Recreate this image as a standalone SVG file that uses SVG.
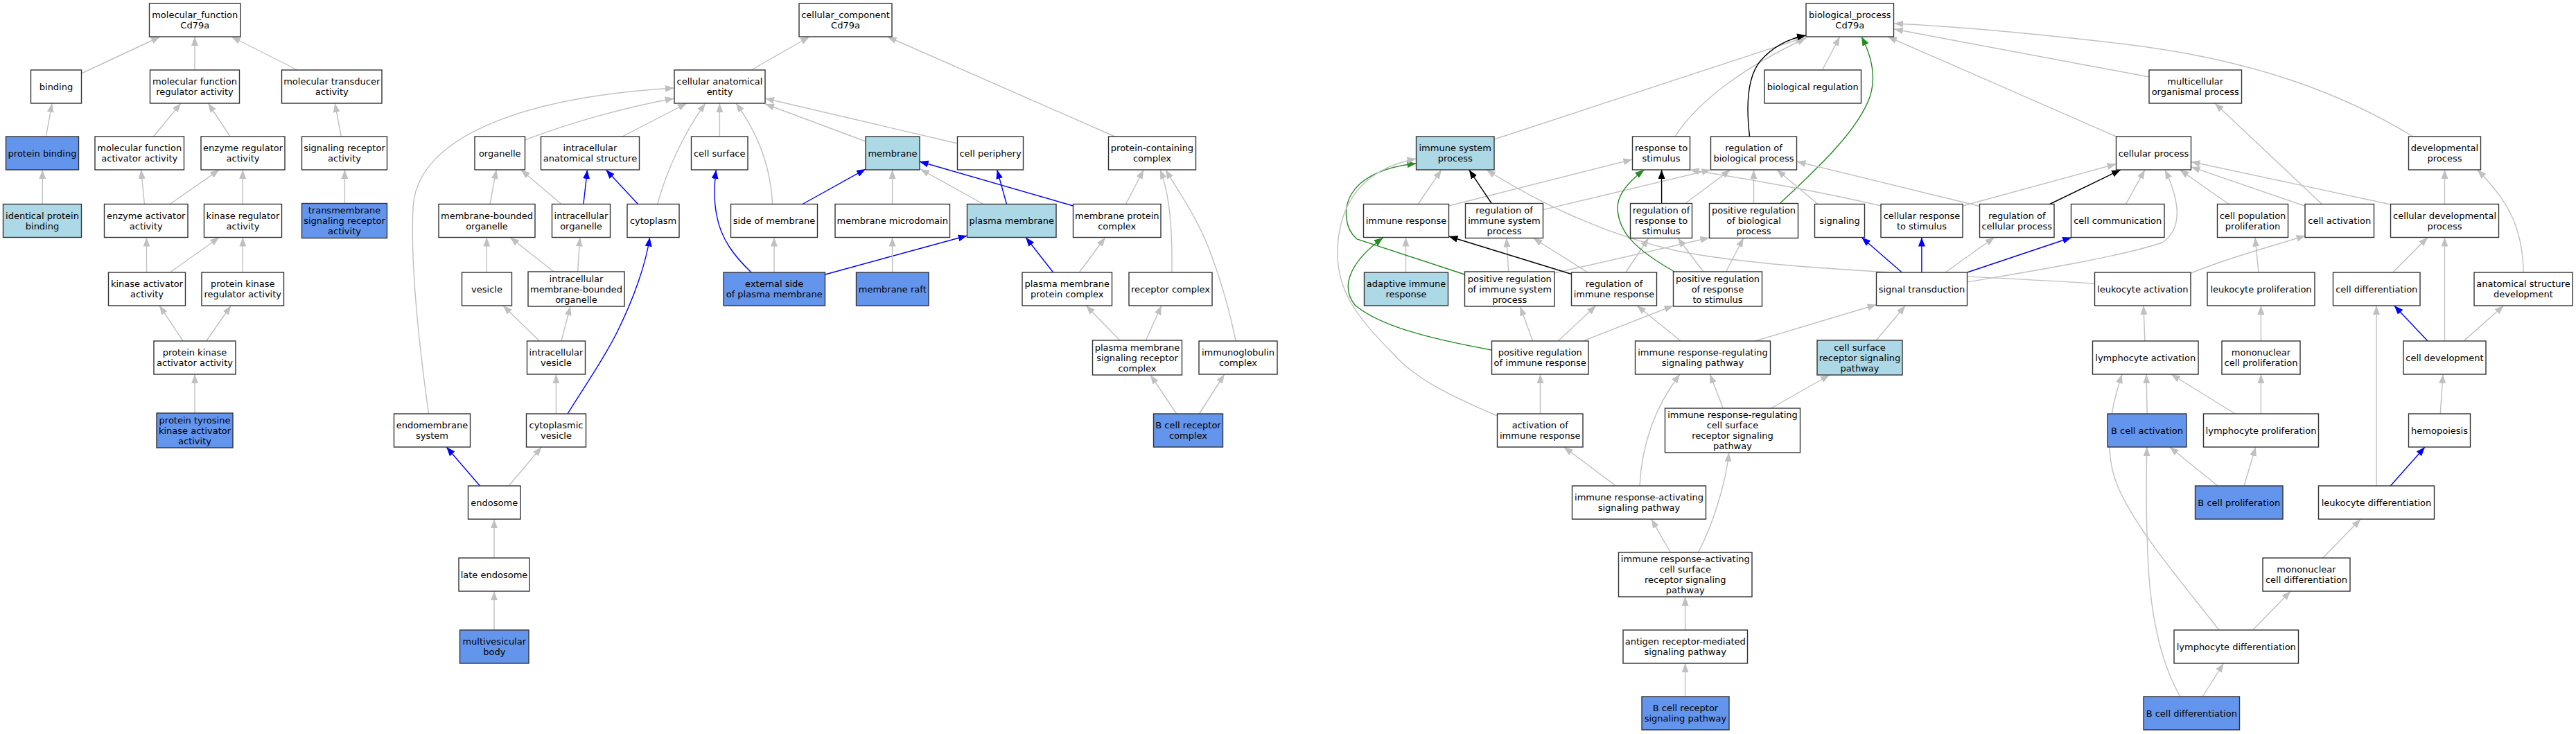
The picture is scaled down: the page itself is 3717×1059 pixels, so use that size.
<svg xmlns="http://www.w3.org/2000/svg" width="3717" height="1059" viewBox="0 0 3717 1059">
<style>
.n rect{fill:#fff;stroke:#333;stroke-width:1.4}
.cb rect{fill:#6495ed}
.lb rect{fill:#add8e6}
text{font-family:"DejaVu Sans","Liberation Sans",sans-serif;font-size:13px;text-anchor:middle;fill:#000}
.e path{fill:none;stroke-width:1.4}
.g{stroke:#c0c0c0;marker-end:url(#mg)}
.b{stroke:#0000ff;marker-end:url(#mb)}
.k{stroke:#000;marker-end:url(#mk)}
.f{stroke:#228b22;marker-end:url(#mf)}
</style>
<defs>
<marker id="mg" viewBox="0 0 13 10" refX="13" refY="5" markerWidth="13" markerHeight="10" markerUnits="userSpaceOnUse" orient="auto" preserveAspectRatio="none"><path d="M0,0L13,5L0,10z" fill="#c0c0c0"/></marker>
<marker id="mb" viewBox="0 0 13 10" refX="13" refY="5" markerWidth="13" markerHeight="10" markerUnits="userSpaceOnUse" orient="auto" preserveAspectRatio="none"><path d="M0,0L13,5L0,10z" fill="#0000ff"/></marker>
<marker id="mk" viewBox="0 0 13 10" refX="13" refY="5" markerWidth="13" markerHeight="10" markerUnits="userSpaceOnUse" orient="auto" preserveAspectRatio="none"><path d="M0,0L13,5L0,10z" fill="#000"/></marker>
<marker id="mf" viewBox="0 0 13 10" refX="13" refY="5" markerWidth="13" markerHeight="10" markerUnits="userSpaceOnUse" orient="auto" preserveAspectRatio="none"><path d="M0,0L13,5L0,10z" fill="#228b22"/></marker>
</defs>
<rect width="3717" height="1059" fill="#fff"/>
<g id="edges" class="e">
<path class="g" d="M117.4,106L231,53"/>
<path class="g" d="M281,101L281,53"/>
<path class="g" d="M429,101L334,53"/>
<path class="g" d="M66.4,197L75.1,149"/>
<path class="g" d="M221.4,197L261,149"/>
<path class="g" d="M332,197L300.5,149"/>
<path class="g" d="M492.3,197L483.2,149"/>
<path class="g" d="M61.3,294.5L61.3,245"/>
<path class="g" d="M208.4,294.5L203.6,245"/>
<path class="g" d="M245.2,294.5L316.3,245"/>
<path class="g" d="M350.3,294.5L350.3,245"/>
<path class="g" d="M497.4,293.5L497.4,245"/>
<path class="g" d="M211.5,393L211.5,342.5"/>
<path class="g" d="M245.2,393L316.3,342.5"/>
<path class="g" d="M350.3,393L350.3,342.5"/>
<path class="g" d="M264.1,492L230.1,441"/>
<path class="g" d="M297.7,492L333.3,441"/>
<path class="g" d="M281.1,596L281.1,540"/>
<path class="g" d="M1084,101L1168,53"/>
<path class="g" d="M1608.7,197L1280.5,53"/>
<path class="g" d="M757.3,202C820,178 900,155 972.8,142"/>
<path class="g" d="M898,197L991,149"/>
<path class="g" d="M948.7,294.5C962,245 988,190 1018,149"/>
<path class="g" d="M1038.4,197L1038.4,149"/>
<path class="g" d="M1114.8,294.5C1112,240 1092,190 1062,149"/>
<path class="g" d="M1249,204L1104.1,150"/>
<path class="g" d="M1381.7,207L1104.1,142"/>
<path class="g" d="M618.5,597C605,500 592,380 596,300C600,200 750,140 972.8,127"/>
<path class="g" d="M707,294.5L716.2,245"/>
<path class="g" d="M810,294.5L751.8,245"/>
<path class="b" d="M841.9,294.5L847.5,245"/>
<path class="b" d="M920.6,294.5L874.4,245"/>
<path class="g" d="M702.3,393L702.3,342.5"/>
<path class="g" d="M799.2,392L736,342.5"/>
<path class="g" d="M833.6,392L836.8,342.5"/>
<path class="g" d="M778.3,492L726.1,441"/>
<path class="g" d="M809.9,492L823,442"/>
<path class="b" d="M819,597C845,555 870,520 890,480C915,430 932,380 937.6,342.5"/>
<path class="g" d="M802.4,597L802.4,540"/>
<path class="b" d="M692.5,701L644.2,645"/>
<path class="g" d="M734,701L781.4,645"/>
<path class="g" d="M713,805L713,749"/>
<path class="g" d="M713,909L713,853"/>
<path class="b" d="M1084,393C1060,370 1040,345 1034,310C1030,290 1030,270 1033.3,245"/>
<path class="g" d="M1117,393L1117,342.5"/>
<path class="b" d="M1190.7,396L1395.6,340"/>
<path class="b" d="M1158,294.5L1249,244"/>
<path class="g" d="M1287.6,294.5L1287.6,245"/>
<path class="g" d="M1418.9,294.5L1328,244"/>
<path class="b" d="M1452.5,294.5L1438.7,245"/>
<path class="b" d="M1548.6,297L1326.7,233"/>
<path class="g" d="M1624.5,294.5L1650.2,245"/>
<path class="g" d="M1287.6,393L1287.6,342.5"/>
<path class="b" d="M1519.7,393L1480.2,342.5"/>
<path class="g" d="M1557.3,393L1594.8,342.5"/>
<path class="g" d="M1690.9,393C1692,330 1688,280 1674,245"/>
<path class="g" d="M1783,492C1775,450 1760,400 1745,360C1725,310 1700,275 1681.8,245"/>
<path class="g" d="M1615.8,491L1567.2,441"/>
<path class="g" d="M1653.4,491L1675.9,441"/>
<path class="g" d="M1697.6,597L1660,541"/>
<path class="g" d="M1730.5,597L1766.8,540"/>
<path class="g" d="M2156,201L2604,54"/>
<path class="g" d="M2417,197C2450,145 2520,95 2606,55"/>
<path class="g" d="M2629.4,101L2654.6,53"/>
<path class="k" d="M2524.6,197C2519,150 2522,110 2540,88C2560,65 2585,55 2606,51"/>
<path class="f" d="M2568.4,293.5C2620,245 2680,190 2698,140C2708,110 2700,80 2686,53"/>
<path class="g" d="M3053.5,197L2724,53"/>
<path class="g" d="M3101,111L2733,42"/>
<path class="g" d="M3482,197C3380,135 3250,85 3060,63C2950,50 2820,38 2733,34"/>
<path class="g" d="M2046.2,294.5L2079.9,245"/>
<path class="g" d="M2090.4,297L2355.5,230"/>
<path class="k" d="M2152.3,293.5L2119.8,245"/>
<path class="g" d="M2226.5,302.6L2468.5,245"/>
<path class="g" d="M2714,297C2620,275 2520,258 2438.5,245"/>
<path class="k" d="M2397.6,293.5L2397.6,245"/>
<path class="g" d="M2431.6,293.5L2496.8,245"/>
<path class="g" d="M2530.5,293.5L2530.5,245"/>
<path class="g" d="M2623,294.5L2564,245"/>
<path class="g" d="M2832.2,297L3053.5,236.6"/>
<path class="g" d="M2856.6,297.5L2592.5,233"/>
<path class="k" d="M2957.7,294.5L3060,245"/>
<path class="g" d="M3067.5,294.5L3094.9,245"/>
<path class="g" d="M3216,294.5L3145.4,245"/>
<path class="g" d="M3326.4,297.5L3161.5,240.7"/>
<path class="g" d="M3449.5,295L3161.5,233.3"/>
<path class="g" d="M3350.4,294.5L3195.9,149"/>
<path class="g" d="M3527.5,294.5L3527.5,245"/>
<path class="g" d="M3641.2,393C3640,330 3620,290 3574.7,245"/>
<path class="g" d="M3161.4,394C3220,370 3280,355 3326.4,340"/>
<path class="g" d="M3259,393L3254,342.5"/>
<path class="g" d="M3452.6,393L3503,342.5"/>
<path class="g" d="M3527.5,492L3527.5,342.5"/>
<path class="b" d="M3503,492L3454.7,441"/>
<path class="g" d="M3554.9,492L3612.6,441"/>
<path class="g" d="M3094.9,492L3093,441"/>
<path class="g" d="M3262.4,492L3262.4,441"/>
<path class="g" d="M3429,701L3429,441"/>
<path class="g" d="M3521.2,597L3525,540"/>
<path class="b" d="M3449.3,701L3499,645"/>
<path class="g" d="M3098.2,597L3097,540"/>
<path class="g" d="M3225.4,597L3132.8,540"/>
<path class="g" d="M3262.4,597L3262.4,540"/>
<path class="g" d="M3200,701L3130.7,645"/>
<path class="g" d="M3238,701L3254.8,645"/>
<path class="g" d="M3351.6,805L3406.3,749"/>
<path class="g" d="M3250.6,909L3305.3,853"/>
<path class="g" d="M3202,909C3140,830 3080,760 3055,700C3035,650 3045,590 3062,540"/>
<path class="g" d="M3178.2,1005L3208.5,957"/>
<path class="g" d="M3146,1005C3120,960 3105,900 3100,820C3096,740 3097,690 3097.8,645"/>
<path class="g" d="M3022.5,409C2800,395 2560,390 2420,362C2300,335 2200,280 2145,245"/>
<path class="g" d="M2028.5,393L2028.5,342.5"/>
<path class="f" d="M2113.5,396L1958,345C1940,330 1938,300 1950,280C1965,255 2000,240 2043.5,236"/>
<path class="g" d="M2176.7,392L2173.7,343.5"/>
<path class="g" d="M2243,394L2466.5,343"/>
<path class="k" d="M2267.5,395.5L2090.5,341"/>
<path class="g" d="M2291.1,393L2212.4,343.5"/>
<path class="g" d="M2345.9,393L2378.7,343.5"/>
<path class="g" d="M2160.5,600C2090,570 2040,545 2010,510C1960,460 1928,420 1930,360C1932,300 1960,245 2043.5,229"/>
<path class="g" d="M2211.6,492L2193.5,442.5"/>
<path class="g" d="M2248.2,492L2302.9,441"/>
<path class="g" d="M2284,492L2414.5,441"/>
<path class="f" d="M2152.5,505C2060,488 1990,470 1955,440C1935,415 1945,380 1995.7,343"/>
<path class="g" d="M2425.3,492L2362,441"/>
<path class="g" d="M2458,392L2421,343.5"/>
<path class="g" d="M2490.5,392L2515.7,343.5"/>
<path class="f" d="M2416,392C2360,360 2335,335 2334,300C2334,280 2350,262 2372.4,245"/>
<path class="g" d="M2532.6,492L2707.5,439.5"/>
<path class="g" d="M2707.2,491L2749.3,441"/>
<path class="b" d="M2744.3,393L2686.2,342.5"/>
<path class="b" d="M2772.9,393L2772.9,342.5"/>
<path class="g" d="M2806,393.8L2877.7,342.5"/>
<path class="b" d="M2838.6,393L2989.2,342.5"/>
<path class="g" d="M2838.6,407C2950,388 3060,370 3120,350C3150,330 3145,290 3124,245"/>
<path class="g" d="M2222.5,597L2222.5,540"/>
<path class="g" d="M2331.5,701L2256.6,645"/>
<path class="g" d="M2366,701C2368,660 2378,600 2424,540"/>
<path class="g" d="M2486.3,589L2467.3,540"/>
<path class="g" d="M2555.7,589L2639.9,541"/>
<path class="g" d="M2410.3,797L2382.9,749"/>
<path class="g" d="M2450.5,797C2470,760 2490,700 2494.7,653"/>
<path class="g" d="M2431.6,909L2431.6,861"/>
<path class="g" d="M2431.6,1005L2431.6,957"/>
</g>
<g id="n_mf_root" class="n"><rect x="215.5" y="5" width="131.5" height="48"/><text><tspan x="281.25" y="26">molecular_function</tspan><tspan x="281.25" y="41">Cd79a</tspan></text></g>
<g id="n_binding" class="n"><rect x="44.5" y="101" width="73" height="48"/><text x="81" y="129.5">binding</text></g>
<g id="n_mfra" class="n"><rect x="216.5" y="101" width="129" height="48"/><text><tspan x="281" y="122">molecular function</tspan><tspan x="281" y="137">regulator activity</tspan></text></g>
<g id="n_mta" class="n"><rect x="406.5" y="101" width="144.5" height="48"/><text><tspan x="478.75" y="122">molecular transducer</tspan><tspan x="478.75" y="137">activity</tspan></text></g>
<g id="n_pb" class="n cb"><rect x="8.5" y="197" width="105" height="48"/><text x="61" y="225.5">protein binding</text></g>
<g id="n_mfaa" class="n"><rect x="137" y="197" width="128.5" height="48"/><text><tspan x="201.25" y="218">molecular function</tspan><tspan x="201.25" y="233">activator activity</tspan></text></g>
<g id="n_era" class="n"><rect x="290" y="197" width="121" height="48"/><text><tspan x="350.5" y="218">enzyme regulator</tspan><tspan x="350.5" y="233">activity</tspan></text></g>
<g id="n_sra" class="n"><rect x="435.5" y="197" width="123" height="48"/><text><tspan x="497" y="218">signaling receptor</tspan><tspan x="497" y="233">activity</tspan></text></g>
<g id="n_ipb" class="n lb"><rect x="4.5" y="294.5" width="113" height="48"/><text><tspan x="61" y="315.5">identical protein</tspan><tspan x="61" y="330.5">binding</tspan></text></g>
<g id="n_eaa" class="n"><rect x="150.5" y="294.5" width="120.5" height="48"/><text><tspan x="210.75" y="315.5">enzyme activator</tspan><tspan x="210.75" y="330.5">activity</tspan></text></g>
<g id="n_kra" class="n"><rect x="294.5" y="294.5" width="112" height="48"/><text><tspan x="350.5" y="315.5">kinase regulator</tspan><tspan x="350.5" y="330.5">activity</tspan></text></g>
<g id="n_tsra" class="n cb"><rect x="435.5" y="293.5" width="123" height="50"/><text><tspan x="497" y="308">transmembrane</tspan><tspan x="497" y="323">signaling receptor</tspan><tspan x="497" y="338">activity</tspan></text></g>
<g id="n_kaa" class="n"><rect x="156.5" y="393" width="111" height="48"/><text><tspan x="212" y="414">kinase activator</tspan><tspan x="212" y="429">activity</tspan></text></g>
<g id="n_pkra" class="n"><rect x="291" y="393" width="118.5" height="48"/><text><tspan x="350.25" y="414">protein kinase</tspan><tspan x="350.25" y="429">regulator activity</tspan></text></g>
<g id="n_pkaa" class="n"><rect x="222" y="492" width="118" height="48"/><text><tspan x="281" y="513">protein kinase</tspan><tspan x="281" y="528">activator activity</tspan></text></g>
<g id="n_ptkaa" class="n cb"><rect x="226" y="596" width="110" height="50"/><text><tspan x="281" y="610.5">protein tyrosine</tspan><tspan x="281" y="625.5">kinase activator</tspan><tspan x="281" y="640.5">activity</tspan></text></g>
<g id="n_cc_root" class="n"><rect x="1153" y="5" width="134" height="48"/><text><tspan x="1220" y="26">cellular_component</tspan><tspan x="1220" y="41">Cd79a</tspan></text></g>
<g id="n_cae" class="n"><rect x="973" y="101" width="131" height="48"/><text><tspan x="1038.5" y="122">cellular anatomical</tspan><tspan x="1038.5" y="137">entity</tspan></text></g>
<g id="n_organelle" class="n"><rect x="685" y="197" width="72.5" height="48"/><text x="721.25" y="225.5">organelle</text></g>
<g id="n_ias" class="n"><rect x="780.5" y="197" width="142" height="48"/><text><tspan x="851.5" y="218">intracellular</tspan><tspan x="851.5" y="233">anatomical structure</tspan></text></g>
<g id="n_cellsurface" class="n"><rect x="997.5" y="197" width="81.5" height="48"/><text x="1038.25" y="225.5">cell surface</text></g>
<g id="n_membrane" class="n lb"><rect x="1249" y="197" width="78" height="48"/><text x="1288" y="225.5">membrane</text></g>
<g id="n_cellperiphery" class="n"><rect x="1381.5" y="197" width="95" height="48"/><text x="1429" y="225.5">cell periphery</text></g>
<g id="n_pcc" class="n"><rect x="1599.5" y="197" width="126" height="48"/><text><tspan x="1662.5" y="218">protein-containing</tspan><tspan x="1662.5" y="233">complex</tspan></text></g>
<g id="n_mbo" class="n"><rect x="633" y="294.5" width="139" height="48"/><text><tspan x="702.5" y="315.5">membrane-bounded</tspan><tspan x="702.5" y="330.5">organelle</tspan></text></g>
<g id="n_io" class="n"><rect x="796.5" y="294.5" width="84" height="48"/><text><tspan x="838.5" y="315.5">intracellular</tspan><tspan x="838.5" y="330.5">organelle</tspan></text></g>
<g id="n_cytoplasm" class="n"><rect x="905" y="294.5" width="75" height="48"/><text x="942.5" y="323">cytoplasm</text></g>
<g id="n_som" class="n"><rect x="1054.5" y="294.5" width="125" height="48"/><text x="1117" y="323">side of membrane</text></g>
<g id="n_mmd" class="n"><rect x="1205" y="294.5" width="165.5" height="48"/><text x="1287.75" y="323">membrane microdomain</text></g>
<g id="n_pm" class="n lb"><rect x="1395.5" y="294.5" width="128.5" height="48"/><text x="1459.75" y="323">plasma membrane</text></g>
<g id="n_mpc" class="n"><rect x="1548.5" y="294.5" width="126.5" height="48"/><text><tspan x="1611.75" y="315.5">membrane protein</tspan><tspan x="1611.75" y="330.5">complex</tspan></text></g>
<g id="n_vesicle" class="n"><rect x="666.5" y="393" width="72" height="48"/><text x="702.5" y="421.5">vesicle</text></g>
<g id="n_imbo" class="n"><rect x="762" y="392" width="139" height="50"/><text><tspan x="831.5" y="406.5">intracellular</tspan><tspan x="831.5" y="421.5">membrane-bounded</tspan><tspan x="831.5" y="436.5">organelle</tspan></text></g>
<g id="n_espm" class="n cb"><rect x="1044" y="393" width="146.5" height="48"/><text><tspan x="1117.25" y="414">external side</tspan><tspan x="1117.25" y="429">of plasma membrane</tspan></text></g>
<g id="n_mraft" class="n cb"><rect x="1235.5" y="393" width="104.5" height="48"/><text x="1287.75" y="421.5">membrane raft</text></g>
<g id="n_pmpc" class="n"><rect x="1475" y="393" width="129.5" height="48"/><text><tspan x="1539.75" y="414">plasma membrane</tspan><tspan x="1539.75" y="429">protein complex</tspan></text></g>
<g id="n_rc" class="n"><rect x="1629" y="393" width="120" height="48"/><text x="1689" y="421.5">receptor complex</text></g>
<g id="n_iv" class="n"><rect x="760.5" y="492" width="84" height="48"/><text><tspan x="802.5" y="513">intracellular</tspan><tspan x="802.5" y="528">vesicle</tspan></text></g>
<g id="n_pmsrc" class="n"><rect x="1576.5" y="491" width="129" height="50"/><text><tspan x="1641" y="505.5">plasma membrane</tspan><tspan x="1641" y="520.5">signaling receptor</tspan><tspan x="1641" y="535.5">complex</tspan></text></g>
<g id="n_igc" class="n"><rect x="1730" y="492" width="113" height="48"/><text><tspan x="1786.5" y="513">immunoglobulin</tspan><tspan x="1786.5" y="528">complex</tspan></text></g>
<g id="n_ems" class="n"><rect x="568.5" y="597" width="110" height="48"/><text><tspan x="623.5" y="618">endomembrane</tspan><tspan x="623.5" y="633">system</tspan></text></g>
<g id="n_cv" class="n"><rect x="759.5" y="597" width="86" height="48"/><text><tspan x="802.5" y="618">cytoplasmic</tspan><tspan x="802.5" y="633">vesicle</tspan></text></g>
<g id="n_bcrc" class="n cb"><rect x="1664.5" y="597" width="100" height="48"/><text><tspan x="1714.5" y="618">B cell receptor</tspan><tspan x="1714.5" y="633">complex</tspan></text></g>
<g id="n_endosome" class="n"><rect x="675.5" y="701" width="75.5" height="48"/><text x="713.25" y="729.5">endosome</text></g>
<g id="n_le" class="n"><rect x="662" y="805" width="102" height="48"/><text x="713" y="833.5">late endosome</text></g>
<g id="n_mvb" class="n cb"><rect x="663.5" y="909" width="99.5" height="48"/><text><tspan x="713.25" y="930">multivesicular</tspan><tspan x="713.25" y="945">body</tspan></text></g>
<g id="n_bp_root" class="n"><rect x="2606" y="5" width="126.5" height="48"/><text><tspan x="2669.25" y="26">biological_process</tspan><tspan x="2669.25" y="41">Cd79a</tspan></text></g>
<g id="n_bioreg" class="n"><rect x="2546" y="101" width="139.5" height="48"/><text x="2615.75" y="129.5">biological regulation</text></g>
<g id="n_mop" class="n"><rect x="3101" y="101" width="133.5" height="48"/><text><tspan x="3167.75" y="122">multicellular</tspan><tspan x="3167.75" y="137">organismal process</tspan></text></g>
<g id="n_isp" class="n lb"><rect x="2043.5" y="197" width="112.5" height="48"/><text><tspan x="2099.75" y="218">immune system</tspan><tspan x="2099.75" y="233">process</tspan></text></g>
<g id="n_rs" class="n"><rect x="2355.5" y="197" width="83" height="48"/><text><tspan x="2397" y="218">response to</tspan><tspan x="2397" y="233">stimulus</tspan></text></g>
<g id="n_rbp" class="n"><rect x="2468.5" y="197" width="124" height="48"/><text><tspan x="2530.5" y="218">regulation of</tspan><tspan x="2530.5" y="233">biological process</tspan></text></g>
<g id="n_cp" class="n"><rect x="3053.5" y="197" width="108" height="48"/><text x="3107.5" y="225.5">cellular process</text></g>
<g id="n_dp" class="n"><rect x="3475.5" y="197" width="104" height="48"/><text><tspan x="3527.5" y="218">developmental</tspan><tspan x="3527.5" y="233">process</tspan></text></g>
<g id="n_ir" class="n"><rect x="1967.5" y="294.5" width="123" height="48"/><text x="2029" y="323">immune response</text></g>
<g id="n_rsp" class="n"><rect x="2114.5" y="293.5" width="112" height="50"/><text><tspan x="2170.5" y="308">regulation of</tspan><tspan x="2170.5" y="323">immune system</tspan><tspan x="2170.5" y="338">process</tspan></text></g>
<g id="n_rrs" class="n"><rect x="2352.5" y="293.5" width="89" height="50"/><text><tspan x="2397" y="308">regulation of</tspan><tspan x="2397" y="323">response to</tspan><tspan x="2397" y="338">stimulus</tspan></text></g>
<g id="n_prbp" class="n"><rect x="2466.5" y="293.5" width="128" height="50"/><text><tspan x="2530.5" y="308">positive regulation</tspan><tspan x="2530.5" y="323">of biological</tspan><tspan x="2530.5" y="338">process</tspan></text></g>
<g id="n_signaling" class="n"><rect x="2618.5" y="294.5" width="72" height="48"/><text x="2654.5" y="323">signaling</text></g>
<g id="n_crs" class="n"><rect x="2714" y="294.5" width="118" height="48"/><text><tspan x="2773" y="315.5">cellular response</tspan><tspan x="2773" y="330.5">to stimulus</tspan></text></g>
<g id="n_rcp" class="n"><rect x="2856.5" y="294.5" width="107.5" height="48"/><text><tspan x="2910.25" y="315.5">regulation of</tspan><tspan x="2910.25" y="330.5">cellular process</tspan></text></g>
<g id="n_cc" class="n"><rect x="2988.5" y="294.5" width="134.5" height="48"/><text x="3055.75" y="323">cell communication</text></g>
<g id="n_cpp" class="n"><rect x="3199.5" y="294.5" width="102" height="48"/><text><tspan x="3250.5" y="315.5">cell population</tspan><tspan x="3250.5" y="330.5">proliferation</tspan></text></g>
<g id="n_ca" class="n"><rect x="3326" y="294.5" width="99.5" height="48"/><text x="3375.75" y="323">cell activation</text></g>
<g id="n_cdp" class="n"><rect x="3449.5" y="294.5" width="156" height="48"/><text><tspan x="3527.5" y="315.5">cellular developmental</tspan><tspan x="3527.5" y="330.5">process</tspan></text></g>
<g id="n_air" class="n lb"><rect x="1968.5" y="393" width="121" height="48"/><text><tspan x="2029" y="414">adaptive immune</tspan><tspan x="2029" y="429">response</tspan></text></g>
<g id="n_prsp" class="n"><rect x="2113.5" y="392" width="129.5" height="50"/><text><tspan x="2178.25" y="406.5">positive regulation</tspan><tspan x="2178.25" y="421.5">of immune system</tspan><tspan x="2178.25" y="436.5">process</tspan></text></g>
<g id="n_rir" class="n"><rect x="2267.5" y="393" width="123" height="48"/><text><tspan x="2329" y="414">regulation of</tspan><tspan x="2329" y="429">immune response</tspan></text></g>
<g id="n_prrs" class="n"><rect x="2414.5" y="392" width="128" height="50"/><text><tspan x="2478.5" y="406.5">positive regulation</tspan><tspan x="2478.5" y="421.5">of response</tspan><tspan x="2478.5" y="436.5">to stimulus</tspan></text></g>
<g id="n_st" class="n"><rect x="2707.5" y="393" width="131" height="48"/><text x="2773" y="421.5">signal transduction</text></g>
<g id="n_la" class="n"><rect x="3022.5" y="393" width="138.5" height="48"/><text x="3091.75" y="421.5">leukocyte activation</text></g>
<g id="n_lp" class="n"><rect x="3185" y="393" width="155" height="48"/><text x="3262.5" y="421.5">leukocyte proliferation</text></g>
<g id="n_cd" class="n"><rect x="3366.5" y="393" width="125.5" height="48"/><text x="3429.25" y="421.5">cell differentiation</text></g>
<g id="n_asd" class="n"><rect x="3570" y="393" width="142" height="48"/><text><tspan x="3641" y="414">anatomical structure</tspan><tspan x="3641" y="429">development</tspan></text></g>
<g id="n_pri" class="n"><rect x="2152.5" y="492" width="139.5" height="48"/><text><tspan x="2222.25" y="513">positive regulation</tspan><tspan x="2222.25" y="528">of immune response</tspan></text></g>
<g id="n_irrsp" class="n"><rect x="2359.5" y="492" width="195" height="48"/><text><tspan x="2457" y="513">immune response-regulating</tspan><tspan x="2457" y="528">signaling pathway</tspan></text></g>
<g id="n_csrsp" class="n lb"><rect x="2622" y="491" width="123" height="50"/><text><tspan x="2683.5" y="505.5">cell surface</tspan><tspan x="2683.5" y="520.5">receptor signaling</tspan><tspan x="2683.5" y="535.5">pathway</tspan></text></g>
<g id="n_lyact" class="n"><rect x="3019.5" y="492" width="152.5" height="48"/><text x="3095.75" y="520.5">lymphocyte activation</text></g>
<g id="n_mcp" class="n"><rect x="3206" y="492" width="113" height="48"/><text><tspan x="3262.5" y="513">mononuclear</tspan><tspan x="3262.5" y="528">cell proliferation</tspan></text></g>
<g id="n_cdev" class="n"><rect x="3468" y="492" width="119" height="48"/><text x="3527.5" y="520.5">cell development</text></g>
<g id="n_aoir" class="n"><rect x="2160.5" y="597" width="123.5" height="48"/><text><tspan x="2222.25" y="618">activation of</tspan><tspan x="2222.25" y="633">immune response</tspan></text></g>
<g id="n_irrcsr" class="n"><rect x="2402.5" y="589" width="195" height="64"/><text><tspan x="2500" y="603">immune response-regulating</tspan><tspan x="2500" y="618">cell surface</tspan><tspan x="2500" y="633">receptor signaling</tspan><tspan x="2500" y="648">pathway</tspan></text></g>
<g id="n_bca" class="n cb"><rect x="3041" y="597" width="114" height="48"/><text x="3098" y="625.5">B cell activation</text></g>
<g id="n_lyp" class="n"><rect x="3179.5" y="597" width="166" height="48"/><text x="3262.5" y="625.5">lymphocyte proliferation</text></g>
<g id="n_hemo" class="n"><rect x="3475.5" y="597" width="89" height="48"/><text x="3520" y="625.5">hemopoiesis</text></g>
<g id="n_irasp" class="n"><rect x="2268.5" y="701" width="193" height="48"/><text><tspan x="2365" y="722">immune response-activating</tspan><tspan x="2365" y="737">signaling pathway</tspan></text></g>
<g id="n_bcp" class="n cb"><rect x="3167.5" y="701" width="126.5" height="48"/><text x="3230.75" y="729.5">B cell proliferation</text></g>
<g id="n_ld" class="n"><rect x="3345.5" y="701" width="167" height="48"/><text x="3429" y="729.5">leukocyte differentiation</text></g>
<g id="n_iracsr" class="n"><rect x="2335.5" y="797" width="192.5" height="64"/><text><tspan x="2431.75" y="811">immune response-activating</tspan><tspan x="2431.75" y="826">cell surface</tspan><tspan x="2431.75" y="841">receptor signaling</tspan><tspan x="2431.75" y="856">pathway</tspan></text></g>
<g id="n_mcd" class="n"><rect x="3265" y="805" width="126" height="48"/><text><tspan x="3328" y="826">mononuclear</tspan><tspan x="3328" y="841">cell differentiation</tspan></text></g>
<g id="n_arm" class="n"><rect x="2342" y="909" width="179.5" height="48"/><text><tspan x="2431.75" y="930">antigen receptor-mediated</tspan><tspan x="2431.75" y="945">signaling pathway</tspan></text></g>
<g id="n_lyd" class="n"><rect x="3137" y="909" width="179.5" height="48"/><text x="3226.75" y="937.5">lymphocyte differentiation</text></g>
<g id="n_bcrsp" class="n cb"><rect x="2369" y="1005" width="126" height="48"/><text><tspan x="2432" y="1026">B cell receptor</tspan><tspan x="2432" y="1041">signaling pathway</tspan></text></g>
<g id="n_bcd" class="n cb"><rect x="3093" y="1005" width="138.5" height="48"/><text x="3162.25" y="1033.5">B cell differentiation</text></g>
</svg>
